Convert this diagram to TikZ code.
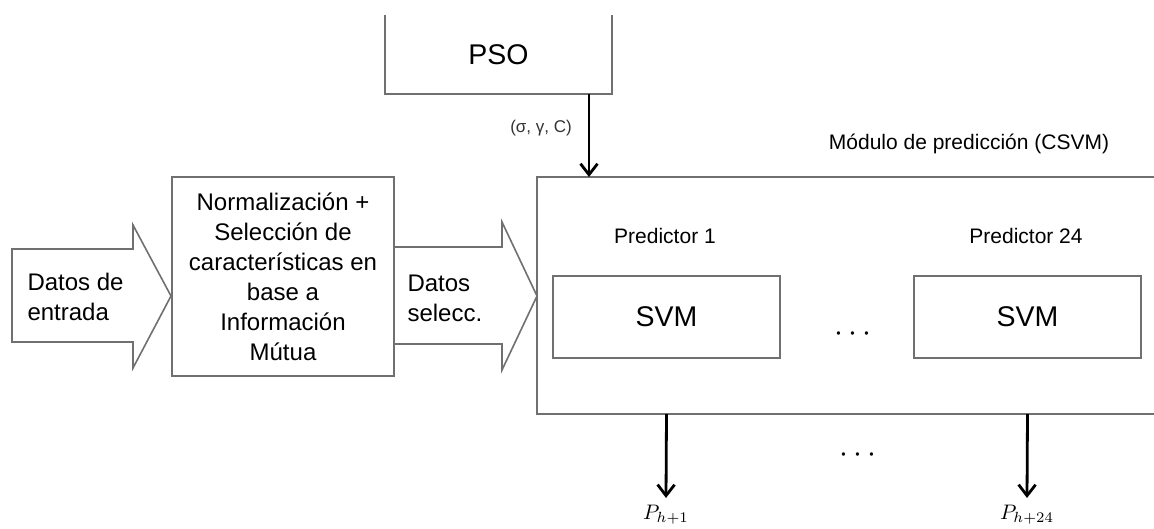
\documentclass[tikz,border=0pt]{standalone}
\usepackage{fontspec}
\setmainfont{Liberation Sans}
\usetikzlibrary{arrows.meta}
\definecolor{linegray}{HTML}{707070}
\tikzset{
  box/.style={draw=linegray,line width=1.8pt,inner sep=0pt},
  flow/.style={line width=2.8pt,-{Straight Barb[length=11pt,width=17pt,line width=2.8pt]}},
  blockarrow/.style={draw=linegray,line width=1.6pt,line join=miter},
  bodytext/.style={font=\fontsize{24}{30}\selectfont},
  bigtext/.style={font=\fontsize{28.5}{32}\selectfont},
  labeltext/.style={font=\fontsize{21}{25}\selectfont},
  smalltext/.style={font=\fontsize{17}{20}\selectfont,text=black!80},
  mathtext/.style={scale=2.1,transform shape},
  dotstext/.style={scale=3.2,transform shape}
}
\begin{document}
\begin{tikzpicture}[x=1pt,y=-1pt]
  \useasboundingbox (0,0) rectangle (1154,528);
  %% PSO block (top edge off the page)
  \node[bigtext,minimum width=227pt,minimum height=79pt] (pso) at (498.5,54.5) {PSO};
  \draw[box] (pso.north west) -- (pso.south west) -- (pso.south east) -- (pso.north east);
  %% input arrow
  \draw[blockarrow] (12,249) -- (133,249) -- (133,225) -- (171,296) -- (133,368) -- (133,342) -- (12,342) -- cycle;
  \node[bodytext,align=left,anchor=west] (datin) at (24,297) {Datos de\\entrada};
  %% normalisation and selection
  \node[box,bodytext,minimum width=222pt,minimum height=199pt,align=center] (norm) at (283,276.5)
    {Normalización +\\Selección de\\características en\\base a\\Información\\Mútua};
  %% selected data arrow
  \draw[blockarrow] (norm.east |- 0,247) -- (502,247) -- (502,222) -- (537,296) -- (502,370) -- (502,344) -- (norm.east |- 0,344);
  \node[bodytext,align=left,anchor=west] (datsel) at (404,298) {Datos\\selecc.};
  %% prediction module (right edge off the page)
  \node[minimum width=617pt,minimum height=237pt] (csvm) at (845.5,295.5) {};
  \draw[box] (csvm.north east) -- (csvm.north west) -- (csvm.south west) -- (csvm.south east);
  \node[labeltext] (modlabel) at (969,144) {Módulo de predicción (CSVM)};
  %% predictors
  \node[box,bigtext,minimum width=227pt,minimum height=82pt] (svma) at (666.5,317) {SVM};
  \node[box,bigtext,minimum width=227pt,minimum height=82pt] (svmb) at (1027.5,317) {SVM};
  \node[labeltext] (preda) at (665,236) {Predictor 1};
  \node[labeltext] (predb) at (1026,236) {Predictor 24};
  \node[dotstext] (dotsa) at (853,334) {$\cdots$};
  \node[dotstext] (dotsb) at (858,455) {$\cdots$};
  %% parameters from PSO
  \coordinate (parin) at (589,177);
  \draw[flow] (pso.south -| parin) -- (parin);
  \node[smalltext] (params) at (541,128) {(σ, γ, C)};
  %% outputs
  \node[mathtext] (pa) at (666,515) {$P_{h+1}$};
  \node[mathtext] (pb) at (1027,515) {$P_{h+24}$};
  \draw[flow] (svma |- csvm.south) -- (pa.north);
  \draw[flow] (svmb |- csvm.south) -- (pb.north);
\end{tikzpicture}
\end{document}
